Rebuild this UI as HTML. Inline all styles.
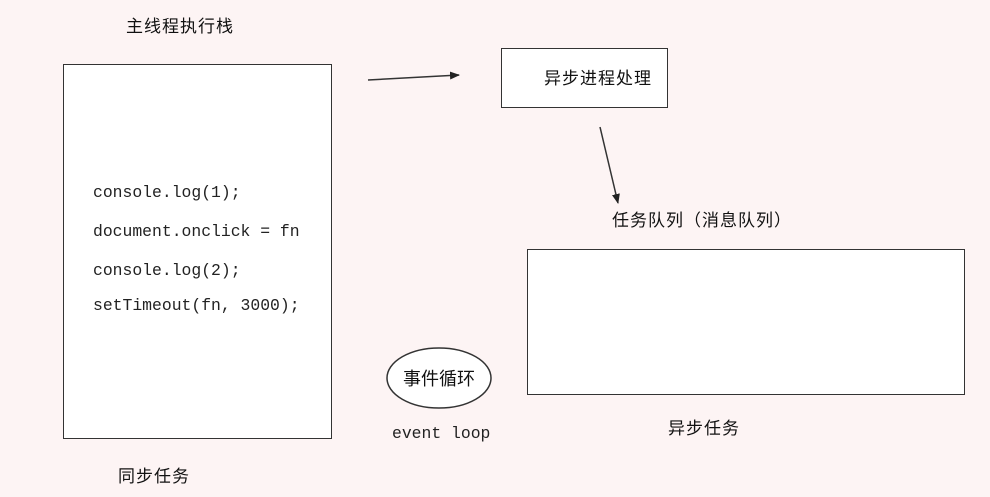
<!DOCTYPE html>
<html><head><meta charset="utf-8"><style>
body{margin:0;width:990px;height:497px;background:#fdf4f4;overflow:hidden;position:relative;font-family:"Liberation Sans","Noto Sans CJK SC",sans-serif;}
.t{position:absolute;font-size:17px;color:#111;white-space:nowrap;letter-spacing:1px;font-family:"Noto Sans CJK SC",sans-serif;}
.box{position:absolute;background:#fff;border:1.5px solid #333;box-sizing:border-box;}
.code{position:absolute;font-family:"Liberation Mono","Noto Sans CJK SC",monospace;font-size:16.4px;color:#222;white-space:nowrap;}
</style></head><body>
<div class="t" style="left:126px;top:12px">主线程执行栈</div>
<div class="box" style="left:63px;top:64px;width:269px;height:375px"></div>
<div class="code" style="left:93px;top:183px">console.log(1);</div>
<div class="code" style="left:93px;top:222px">document.onclick = fn</div>
<div class="code" style="left:93px;top:261px">console.log(2);</div>
<div class="code" style="left:93px;top:296px">setTimeout(fn, 3000);</div>
<div class="t" style="left:118px;top:462px">同步任务</div>
<div class="box" style="left:501px;top:48px;width:167px;height:60px"></div>
<div class="t" style="left:544px;top:64px">异步进程处理</div>
<div class="t" style="left:612px;top:206px">任务队列（消息队列）</div>
<div class="box" style="left:527px;top:249px;width:438px;height:146px"></div>
<div class="t" style="left:668px;top:414px">异步任务</div>
<div class="code" style="left:392px;top:424px">event loop</div>
<svg width="990" height="497" style="position:absolute;left:0;top:0">
<defs><marker id="a" markerWidth="10" markerHeight="8" refX="9" refY="4" orient="auto" markerUnits="userSpaceOnUse"><path d="M0,0 L10,4 L0,8 z" fill="#222"/></marker></defs>
<line x1="368" y1="80" x2="459" y2="75" stroke="#333" stroke-width="1.5" marker-end="url(#a)"/>
<line x1="600" y1="127" x2="618" y2="203" stroke="#333" stroke-width="1.5" marker-end="url(#a)"/>
<ellipse cx="439" cy="378" rx="52" ry="30" fill="#fff" stroke="#333" stroke-width="1.5"/>
<text x="439" y="385" font-size="18" text-anchor="middle" fill="#111" font-family="Noto Sans CJK SC, sans-serif">事件循环</text>
</svg>
</body></html>
